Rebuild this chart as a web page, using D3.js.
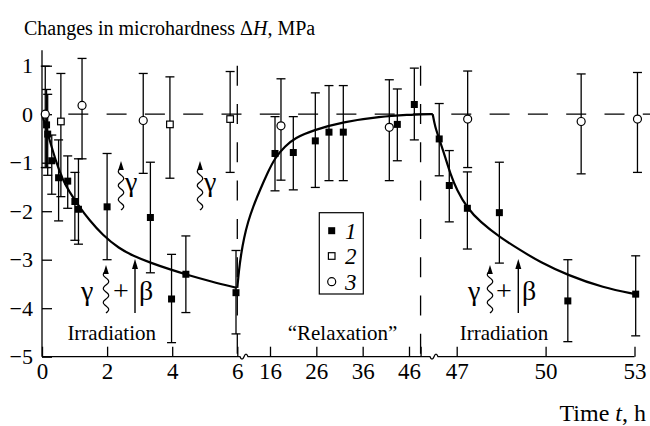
<!DOCTYPE html>
<html>
<head>
<meta charset="utf-8">
<script src="https://cdn.jsdelivr.net/npm/d3@7"></script>
<style>
  body { margin: 0; background: #fff; }
  svg { display: block; }
  text { font-family: "Liberation Serif", "Times New Roman", serif; fill: #000; }
</style>
</head>
<body>
<svg id="chart" width="650" height="426"></svg>
<script>
// ---- tick values for the three pieces of the broken time axis ----
const ticksIrr1 = [0, 2, 4, 6];
const ticksRelax = [16, 26, 36, 46];
const ticksIrr2 = [47, 50, 53];
const ticksY = [-5, -4, -3, -2, -1, 0, 1];
const relaxEnd = 48.5;          // end of the relaxation stage (relaxation-axis hours)
const legendLabels = ["1", "2", "3"];

// ---- measurements: [time h, ΔH MPa, upper error, lower error] ----
// series 1 (filled squares)
const s1Irr1 = [
  [0.14, -0.22, 0.51, -1.10], [0.175, -0.41, 0.41, -1.26], [0.30, -0.96, -0.43, -1.65],
  [0.51, -1.31, -0.53, -2.20], [0.79, -1.38, -0.86, -1.94], [1.01, -1.80, -1.20, -2.60],
  [1.12, -1.96, -0.92, -2.68], [2.00, -1.91, -0.81, -3.00], [3.33, -2.13, -0.99, -3.27],
  [3.98, -3.81, -2.89, -4.71], [4.42, -3.30, -2.51, -4.09], [5.96, -3.68, -2.81, -4.53]
];
const s1Relax = [
  [17.08, -0.81, -0.05, -1.58], [21.03, -0.79, -0.05, -1.56], [25.78, -0.55, 0.44, -1.51],
  [28.73, -0.37, 0.59, -1.37], [31.82, -0.37, 0.59, -1.37], [43.48, -0.21, 0.52, -0.96],
  [47.15, 0.20, 0.95, -0.53]
];
const s1Irr2 = [
  [46.41, -0.51, 0.22, -1.27], [46.75, -1.47, -0.75, -2.22], [47.36, -1.94, -1.19, -2.78],
  [48.44, -2.03, -0.99, -3.07], [50.75, -3.85, -3.00, -4.69], [53.04, -3.71, -2.92, -4.57]
];
// series 2 (open squares)
const s2Irr1 = [
  [0.58, -0.15, 0.84, -1.70], [3.93, -0.21, 0.77, -1.32], [5.78, -0.10, 0.88, -1.20]
];
// series 3 (open circles)
const s3Irr1 = [
  [0.10, 0.00, 0.99, -1.10], [1.23, 0.18, 1.15, -0.92], [3.11, -0.13, 0.84, -1.22]
];
const s3Relax = [
  [18.37, -0.24, 0.73, -1.36], [41.75, -0.27, 0.71, -1.37]
];
const s3Irr2 = [
  [47.37, -0.10, 0.89, -1.10], [51.20, -0.15, 0.83, -1.23], [53.10, -0.10, 0.86, -1.20]
];

// ---- fitted curves: [time h, ΔH MPa] ----
const curveIrr1 = [
  [0, 0], [0.22, -0.50], [0.43, -0.98], [0.64, -1.36], [0.84, -1.60], [1.15, -1.91],
  [1.45, -2.18], [1.86, -2.49], [2.37, -2.77], [2.80, -2.92], [3.32, -3.06],
  [3.93, -3.20], [4.45, -3.31], [5.20, -3.45], [5.98, -3.58]
];
const curveRelax = [
  [6.0, -3.58], [6.52, -3.21], [7.13, -2.90], [8.05, -2.55], [9.27, -2.22], [10.8, -1.91],
  [12.94, -1.56], [15.39, -1.19], [17.08, -0.90], [19.24, -0.66], [21.40, -0.49],
  [25.28, -0.33], [31.76, -0.16], [39.74, -0.05], [46.22, -0.01], [48.5, 0], [51.1, 0]
];
const curveIrr2 = [
  [46.19, 0], [46.27, -0.26], [46.41, -0.51], [46.61, -0.88], [46.78, -1.22], [47.0, -1.56],
  [47.36, -1.94], [47.79, -2.22], [48.46, -2.54], [49.14, -2.80], [49.81, -3.05],
  [50.75, -3.32], [51.95, -3.58], [53.04, -3.71]
];

// ---- scales ----
const svg = d3.select("#chart");
const y = d3.scaleLinear().domain([-5, 1]).range([356.7, 65.7]);
const xIrr1 = d3.scaleLinear().domain([0, 6]).range([42, 237.3]);
const xRelax = d3.scaleLinear().domain([6, 16, 46]).range([237.3, 270, 409]);
const xIrr2 = d3.scaleLinear().domain([47, 53]).range([456.7, 634.5]);
const y0 = y(-5);

// ---- reference lines ----
svg.append("line")
  .attr("x1", xIrr1(0)).attr("x2", 650)
  .attr("y1", y(0)).attr("y2", y(0))
  .attr("stroke", "#000").attr("stroke-width", 1.3)
  .attr("stroke-dasharray", "20 18.3").attr("stroke-dashoffset", 12);
[xIrr1(6), xRelax(relaxEnd)].forEach(px => {
  svg.append("line")
    .attr("x1", px).attr("x2", px)
    .attr("y1", y(1)).attr("y2", y0)
    .attr("stroke", "#000").attr("stroke-width", 1.3)
    .attr("stroke-dasharray", "20 18.3");
});

// ---- axes ----
const axisG = svg.append("g");
axisG.append("path")
  .attr("d", `M${xIrr1(0)},${y0} H240 q2,5 4,0 t4,0 H430 q2,5 4,0 t4,0 H${xIrr2(53)}`)
  .attr("fill", "none").attr("stroke", "#000").attr("stroke-width", 1.3);
axisG.append("line")
  .attr("x1", xIrr1(0)).attr("x2", xIrr1(0))
  .attr("y1", y0).attr("y2", y(1.32))
  .attr("stroke", "#000").attr("stroke-width", 1.3);

function bottomAxis(scale, values, labelled) {
  const g = svg.append("g").attr("transform", `translate(0,${y0})`)
    .call(d3.axisBottom(scale).tickValues(values)
      .tickSizeInner(-10).tickSizeOuter(0)
      .tickFormat(labelled ? d3.format("d") : () => ""));
  g.select(".domain").remove();
  g.selectAll(".tick line").attr("stroke", "#000").attr("stroke-width", 1.3);
  g.selectAll(".tick text")
    .attr("y", 6).attr("dy", "0.71em")
    .attr("font-size", 23);
}
bottomAxis(xIrr1, ticksIrr1, true);
bottomAxis(xRelax, ticksRelax, true);
bottomAxis(xRelax, [relaxEnd], false);
bottomAxis(xIrr2, ticksIrr2, true);

const gy = svg.append("g").attr("transform", `translate(${xIrr1(0)},0)`)
  .call(d3.axisLeft(y).tickValues(ticksY)
    .tickSizeInner(-10).tickSizeOuter(0).tickPadding(9)
    .tickFormat(d => d < 0 ? "\u2212" + Math.abs(d) : String(d)));
gy.select(".domain").remove();
gy.selectAll(".tick line").attr("stroke", "#000").attr("stroke-width", 1.3);
gy.selectAll(".tick text").attr("font-size", 22);

// ---- error bars ----
function errorBars(data, xs) {
  const g = svg.append("g").attr("stroke", "#000").attr("stroke-width", 1.3);
  data.forEach(d => {
    const px = xs(d[0]);
    g.append("line").attr("x1", px).attr("x2", px).attr("y1", y(d[2])).attr("y2", y(d[3]));
    [d[2], d[3]].forEach(v => {
      g.append("line").attr("x1", px - 4.5).attr("x2", px + 4.5).attr("y1", y(v)).attr("y2", y(v));
    });
  });
}
[[s1Irr1, xIrr1], [s1Relax, xRelax], [s1Irr2, xIrr2],
 [s2Irr1, xIrr1],
 [s3Irr1, xIrr1], [s3Relax, xRelax], [s3Irr2, xIrr2]].forEach(([d, s]) => errorBars(d, s));

// ---- curves ----
function curve(data, xs) {
  svg.append("path")
    .datum(data)
    .attr("fill", "none").attr("stroke", "#000").attr("stroke-width", 2.2)
    .attr("stroke-linejoin", "round")
    .attr("d", d3.line().x(d => xs(d[0])).y(d => y(d[1])).curve(d3.curveBasis));
}
curve(curveIrr1, xIrr1);
curve(curveRelax, xRelax);
curve(curveIrr2, xIrr2);

// ---- markers ----
function filledSquares(data, xs) {
  svg.append("g").selectAll("rect").data(data).join("rect")
    .attr("x", d => xs(d[0]) - 3.5).attr("y", d => y(d[1]) - 3.5)
    .attr("width", 7).attr("height", 7).attr("fill", "#000");
}
function openSquares(data, xs) {
  svg.append("g").selectAll("rect").data(data).join("rect")
    .attr("x", d => xs(d[0]) - 3.3).attr("y", d => y(d[1]) - 3.3)
    .attr("width", 6.6).attr("height", 6.6)
    .attr("fill", "#fff").attr("stroke", "#000").attr("stroke-width", 1.2);
}
function openCircles(data, xs) {
  svg.append("g").selectAll("circle").data(data).join("circle")
    .attr("cx", d => xs(d[0])).attr("cy", d => y(d[1])).attr("r", 4)
    .attr("fill", "#fff").attr("stroke", "#000").attr("stroke-width", 1.2);
}
filledSquares(s1Irr1, xIrr1); filledSquares(s1Relax, xRelax); filledSquares(s1Irr2, xIrr2);
openSquares(s2Irr1, xIrr1);
openCircles(s3Irr1, xIrr1); openCircles(s3Relax, xRelax); openCircles(s3Irr2, xIrr2);

// ---- legend ----
const lg = svg.append("g");
lg.append("rect").attr("x", 319.3).attr("y", 212.7).attr("width", 44).attr("height", 81.3)
  .attr("fill", "#fff").attr("stroke", "#000").attr("stroke-width", 1.2);
const rowY = [230.7, 256, 281.7];
lg.append("rect").attr("x", 328.2).attr("y", rowY[0] - 3.5).attr("width", 7).attr("height", 7).attr("fill", "#000");
lg.append("rect").attr("x", 328.4).attr("y", rowY[1] - 3.3).attr("width", 6.6).attr("height", 6.6)
  .attr("fill", "#fff").attr("stroke", "#000").attr("stroke-width", 1.2);
lg.append("circle").attr("cx", 331.7).attr("cy", rowY[2]).attr("r", 4)
  .attr("fill", "#fff").attr("stroke", "#000").attr("stroke-width", 1.2);
legendLabels.forEach((t, i) => {
  lg.append("text").attr("x", 345).attr("y", rowY[i]).attr("dy", "0.35em")
    .attr("font-size", 23).attr("font-style", "italic").text(t);
});

// ---- stage labels and radiation symbols ----
function stageLabel(x, text) {
  svg.append("text").attr("x", x).attr("y", 340).attr("text-anchor", "middle")
    .attr("font-size", 21).text(text);
}
stageLabel(111.7, "Irradiation");
stageLabel(342.5, "\u201CRelaxation\u201D");
stageLabel(504, "Irradiation");

function wavyArrow(x, yBottom, yTop) {
  const pts = [];
  const len = yBottom - (yTop + 7);
  for (let i = 0; i <= 40; i++) {
    const yy = yBottom - len * i / 40;
    pts.push([x + 2.8 * Math.sin(i / 40 * Math.PI * 2 * (len / 14)), yy]);
  }
  svg.append("path").attr("d", d3.line().curve(d3.curveBasis)(pts))
    .attr("fill", "none").attr("stroke", "#000").attr("stroke-width", 1.2);
  svg.append("path").attr("d", `M${x},${yTop} l-2.8,9 l5.6,0 z`).attr("fill", "#000");
}
function straightArrow(x, yBottom, yTop) {
  svg.append("line").attr("x1", x).attr("x2", x).attr("y1", yBottom).attr("y2", yTop + 6)
    .attr("stroke", "#000").attr("stroke-width", 1.4);
  svg.append("path").attr("d", `M${x},${yTop} l-3,10 l6,0 z`).attr("fill", "#000");
}
function symbol(x, yy, t) {
  svg.append("text").attr("x", x).attr("y", yy).attr("dy", "0.35em")
    .attr("font-size", 28).text(t);
}
// γ alone (upper)
wavyArrow(121, 210, 161);
symbol(125, 181, "\u03B3");
wavyArrow(200, 210, 161);
symbol(204, 181, "\u03B3");
// γ + β (lower left)
symbol(81, 290, "\u03B3");
wavyArrow(106, 313, 265);
symbol(113, 290, "+");
straightArrow(135, 313, 259);
symbol(139, 290, "\u03B2");
// γ + β (lower right)
symbol(468, 290, "\u03B3");
wavyArrow(490, 313, 265);
symbol(496, 290, "+");
straightArrow(518.3, 313, 259);
symbol(522, 290, "\u03B2");

// ---- axis titles ----
const title = svg.append("text").attr("x", 24).attr("y", 35).attr("font-size", 20);
title.append("tspan").text("Changes in microhardness \u0394");
title.append("tspan").attr("font-style", "italic").text("H");
title.append("tspan").text(", MPa");

const xt = svg.append("text").attr("x", 646).attr("y", 421).attr("text-anchor", "end").attr("font-size", 24);
xt.append("tspan").text("Time ");
xt.append("tspan").attr("font-style", "italic").text("t");
xt.append("tspan").text(", h");
</script>
</body>
</html>
